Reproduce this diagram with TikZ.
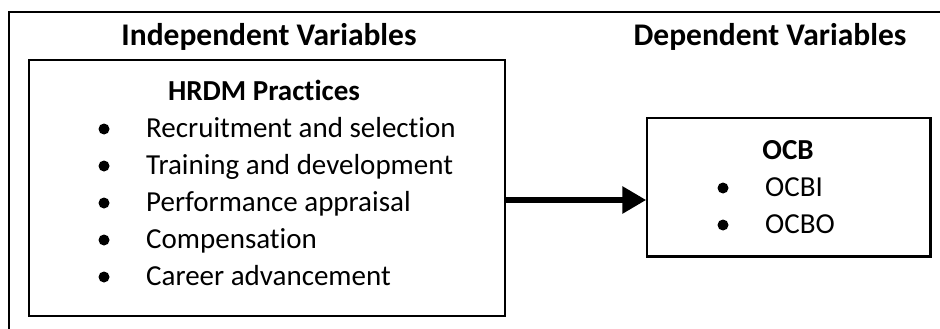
\documentclass[tikz,border=0pt]{standalone}
\usepackage{fontspec}
\setmainfont{Carlito}[Ligatures=NoCommon]
\usetikzlibrary{positioning, arrows.meta}

\begin{document}
\begin{tikzpicture}[x=1pt, y=-1pt,
    box/.style={draw, line width=1.5pt, inner sep=0pt},
    txt/.style={anchor=base west, inner sep=0pt, font=\fontsize{29}{37}\selectfont},
    head/.style={anchor=base, inner sep=0pt, font=\fontsize{29}{37}\selectfont\bfseries},
    title/.style={head, font=\fontsize{31.5}{37}\selectfont\bfseries},
    dot/.style={circle, fill, inner sep=0pt, minimum size=11pt}]
        \useasboundingbox (0,0) rectangle (940,329);

        % Frame (top and left edges)
        \coordinate (fa) at (940,12);
        \coordinate (fb) at (9,12);
        \coordinate (fc) at (9,329);
        \draw[line width=1.5pt] (fa) -- (fb) -- (fc);

        % Boxes
        \node[box, minimum width=476pt, minimum height=256pt] (iv) at (267,188) {};
        \node[box, minimum width=283pt, minimum height=138pt] (dv) at (788.5,187) {};
        \draw[line width=2.5pt] (dv.north east) -- (dv.south east) -- (dv.south west);

        % Headings
        \node[title] (ivh) at (269,46) {Independent Variables};
        \node[title] (dvh) at (770,46) {Dependent Variables};
        \node[head] (hrdm) at (264,100) {HRDM Practices};
        \node[head] (ocb) at (788,159) {OCB};

        % Items
        \foreach \t [count=\i] in {Recruitment and selection, Training and development, Performance appraisal, Compensation, Career advancement} {
            \node[dot] (hb\i) at (104,92+37*\i) {};
            \node[txt] (h\i) at (146,100+37*\i) {\t};
        }
        \foreach \t [count=\i] in {OCBI, OCBO} {
            \node[dot] (ob\i) at (723,151+37*\i) {};
            \node[txt] (o\i) at (765,159+37*\i) {\t};
        }

        % Link
        \draw[line width=6pt, -{Triangle[length=24pt, width=26pt]}] ([yshift=-12pt]iv.east) -- ([yshift=-13pt]dv.west);
\end{tikzpicture}
\end{document}
